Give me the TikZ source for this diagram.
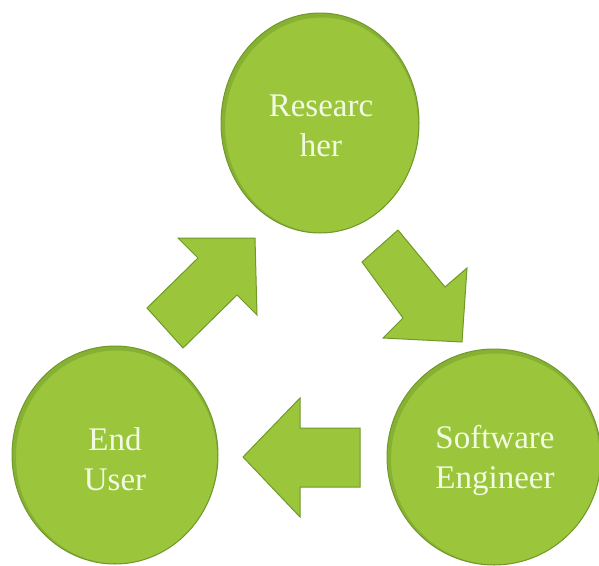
\documentclass[tikz,border=0pt]{standalone}
\usepackage{fontspec}
\setmainfont{Liberation Serif}
\definecolor{leaf}{RGB}{155,198,60}
\definecolor{leafdark}{RGB}{112,152,42}
\definecolor{txt}{RGB}{242,250,228}
\begin{document}
\begin{tikzpicture}[x=1pt,y=-1pt,
  lbl/.style={text=txt, align=center, font=\fontsize{33}{40}\selectfont},
  blockarrow/.style={fill=leaf, draw=leafdark, line width=1pt, line join=miter}]
\useasboundingbox (0,0) rectangle (599,565);
\clip (0,0) rectangle (599,565);
% ellipses with a soft inner rim
\foreach \cx/\cy/\rx/\ry in {320/123/99/110, 115/455/103/109, 494/457/107/108}{
  \fill[leaf] (\cx,\cy) ellipse [x radius=\rx, y radius=\ry];
  \begin{scope}
    \clip (\cx,\cy) ellipse [x radius=\rx, y radius=\ry];
    \draw[leafdark, line width=5pt, opacity=0.45] (\cx+1.5,\cy+2) ellipse [x radius=\rx, y radius=\ry];
  \end{scope}
  \draw[leafdark, line width=1pt] (\cx,\cy) ellipse [x radius=\rx, y radius=\ry];
}
% labels
\node[lbl] (res) at (321,126) {Researc\\her};
\node[lbl] (end) at (115,459) {End\\User};
\node[lbl] (soft) at (495,460) {Software\\Engineer};
% block arrows
\filldraw[blockarrow] (147,308) -- (198,258) -- (178,238) -- (255,238) -- (257,315) -- (237,295) -- (183,348) -- cycle;
\filldraw[blockarrow] (398,230) -- (445,287) -- (467,268) -- (462,342) -- (383,338) -- (403,318) -- (362,262) -- cycle;
\filldraw[blockarrow] (243,457) -- (300,398) -- (300,428) -- (360,428) -- (360,487) -- (300,487) -- (300,517) -- cycle;
\end{tikzpicture}
\end{document}
